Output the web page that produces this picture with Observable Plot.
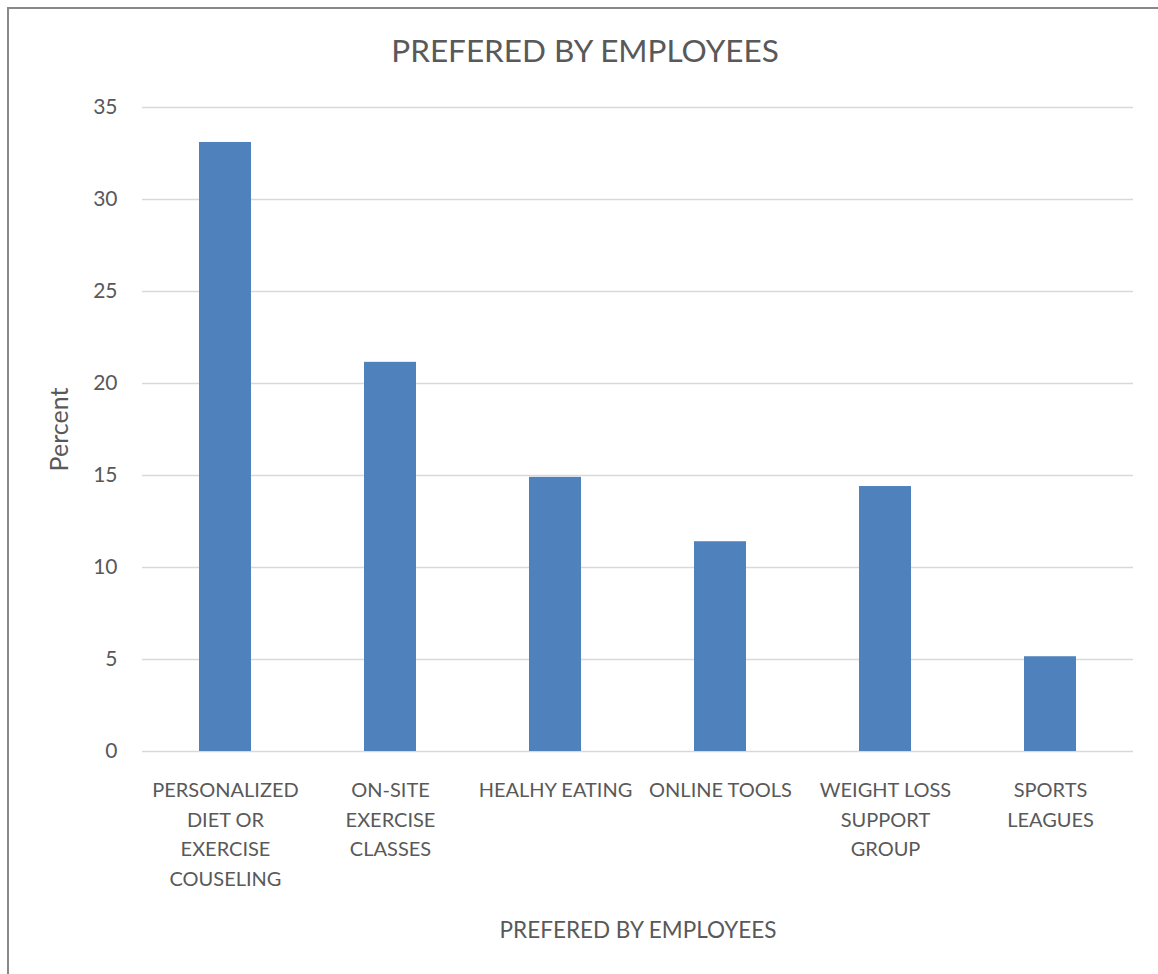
<!DOCTYPE html>
<html>
<head>
<meta charset="utf-8">
<script src="https://cdn.jsdelivr.net/npm/d3@7"></script>
<script src="https://cdn.jsdelivr.net/npm/@observablehq/plot@0.6"></script>
<style>
  html, body { margin: 0; padding: 0; background: #fff; }
  #wrap { position: relative; width: 1158px; height: 974px; overflow: hidden; font-family: Lato, "Open Sans", sans-serif; }
  #border { position: absolute; left: 7px; top: 7px; width: 1200px; height: 1000px; border-left: 2px solid #898989; border-top: 2px solid #898989; box-sizing: border-box; }
  #title { position: absolute; left: 10px; width: 1150px; top: 31px; text-align: center; font-size: 31.5px; color: #595959; line-height: 38px; white-space: nowrap; }
  #chart { position: absolute; left: 0; top: 0; }
</style>
</head>
<body>
<div id="wrap">
  <div id="border"></div>
  <div id="title">PREFERED BY EMPLOYEES</div>
  <div id="chart"></div>
</div>
<script>
const categories = [
  "PERSONALIZED DIET OR EXERCISE COUSELING",
  "ON-SITE EXERCISE CLASSES",
  "HEALHY EATING",
  "ONLINE TOOLS",
  "WEIGHT LOSS SUPPORT GROUP",
  "SPORTS LEAGUES"
];
const tickLabels = [
  "PERSONALIZED\nDIET OR\nEXERCISE\nCOUSELING",
  "ON-SITE\nEXERCISE\nCLASSES",
  "HEALHY EATING",
  "ONLINE TOOLS",
  "WEIGHT LOSS\nSUPPORT\nGROUP",
  "SPORTS\nLEAGUES"
];
const percents = [33.1, 21.15, 14.9, 11.4, 14.4, 5.15];
const yTicks = [0, 5, 10, 15, 20, 25, 30, 35];
const xTitle = "PREFERED BY EMPLOYEES";
const yTitle = "Percent";

const data = categories.map((c, i) => ({category: c, value: percents[i]}));
const labelOf = new Map(categories.map((c, i) => [c, tickLabels[i]]));

const textColor = "#595959";

const chart = Plot.plot({
  width: 1158,
  height: 974,
  marginLeft: 142,
  marginRight: 25,
  marginTop: 107,
  marginBottom: 223,
  style: {fontFamily: "Lato, 'Open Sans', sans-serif", background: "transparent", color: textColor},
  x: {domain: categories, paddingInner: 0.685, paddingOuter: 0.3425, align: 0.5},
  y: {domain: [0, 35]},
  marks: [
    Plot.ruleY(yTicks, {stroke: "#d9d9d9", strokeWidth: 1.6}),
    Plot.barY(data, {x: "category", y: "value", fill: "#4f81bd"}),
    Plot.axisY(yTicks, {
      tickSize: 0, tickPadding: 25, fontSize: 21, fill: textColor, label: null
    }),
    Plot.axisX({
      tickSize: 0, tickPadding: 25, fontSize: 20, fill: textColor, lineHeight: 1.47,
      tickFormat: d => labelOf.get(d), label: null
    }),
    Plot.text([yTitle], {
      text: d => d, frameAnchor: "left", rotate: -90, lineAnchor: "middle", textAnchor: "middle",
      dx: -83, fontSize: 25, fill: textColor
    }),
    Plot.text([xTitle], {
      text: d => d, frameAnchor: "bottom", lineAnchor: "middle",
      dy: 179, fontSize: 22.5, fill: textColor
    })
  ]
});
document.getElementById("chart").appendChild(chart);
</script>
</body>
</html>
